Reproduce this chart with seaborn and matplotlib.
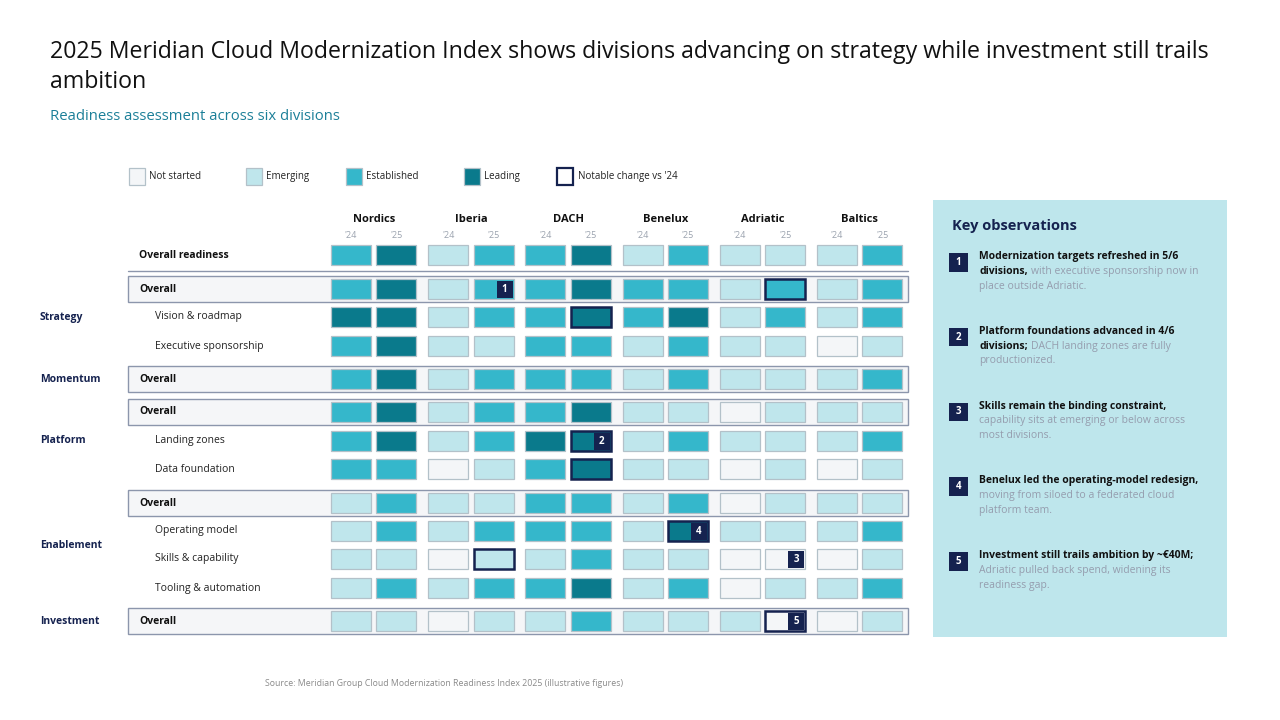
import matplotlib
matplotlib.use("Agg")
import matplotlib.pyplot as plt
import seaborn as sns
from matplotlib.patches import Rectangle

sns.set_theme(style="white")
plt.rcParams['font.family'] = ['Open Sans', 'DejaVu Sans']

# ---- data ----
divisions = ["Nordics", "Iberia", "DACH", "Benelux", "Adriatic", "Baltics"]
years = ["'24", "'25"]
level_names = ["Not started", "Emerging", "Established", "Leading"]

row_labels = ["Overall readiness", "Overall", "Vision & roadmap", "Executive sponsorship",
              "Overall", "Overall", "Landing zones", "Data foundation", "Overall",
              "Operating model", "Skills & capability", "Tooling & automation", "Overall"]
row_groups = ["", "Strategy", "Strategy", "Strategy", "Momentum", "Platform", "Platform",
              "Platform", "Enablement", "Enablement", "Enablement", "Enablement", "Investment"]

# 0 = not started, 1 = emerging, 2 = established, 3 = leading
scores_24 = [
    [2, 1, 2, 1, 1, 1],
    [2, 1, 2, 2, 1, 1],
    [3, 1, 2, 2, 1, 1],
    [2, 1, 2, 1, 1, 0],
    [2, 1, 2, 1, 1, 1],
    [2, 1, 2, 1, 0, 1],
    [2, 1, 3, 1, 1, 1],
    [2, 0, 2, 1, 0, 0],
    [1, 1, 2, 1, 0, 1],
    [1, 1, 2, 1, 1, 1],
    [1, 0, 1, 1, 0, 0],
    [1, 1, 2, 1, 0, 1],
    [1, 0, 1, 1, 1, 0],
]
scores_25 = [
    [3, 2, 3, 2, 1, 2],
    [3, 2, 3, 2, 2, 2],
    [3, 2, 3, 3, 2, 2],
    [3, 1, 2, 2, 1, 1],
    [3, 2, 2, 2, 1, 2],
    [3, 2, 3, 1, 1, 1],
    [3, 2, 3, 2, 1, 2],
    [2, 1, 3, 1, 1, 1],
    [2, 1, 2, 2, 1, 1],
    [2, 2, 2, 3, 1, 2],
    [1, 1, 2, 1, 0, 1],
    [2, 2, 3, 2, 1, 2],
    [1, 1, 2, 1, 0, 1],
]

# notable changes vs '24 (row, division) - all on the '25 column
notable = [(1, "Adriatic"), (2, "DACH"), (6, "DACH"), (7, "DACH"),
           (9, "Benelux"), (10, "Iberia"), (12, "Adriatic")]
# numbered callouts (number, row, division)
callouts = [(1, 1, "Iberia"), (2, 6, "DACH"), (3, 10, "Adriatic"),
            (4, 9, "Benelux"), (5, 12, "Adriatic")]

obs_bold = [
    ["Modernization targets refreshed in 5/6", "divisions,"],
    ["Platform foundations advanced in 4/6", "divisions;"],
    ["Skills remain the binding constraint,"],
    ["Benelux led the operating-model redesign,"],
    ["Investment still trails ambition by ~€40M;"],
]
obs_rest = [
    ["with executive sponsorship now in", "place outside Adriatic."],
    ["DACH landing zones are fully", "productionized."],
    ["capability sits at emerging or below across", "most divisions."],
    ["moving from siloed to a federated cloud", "platform team."],
    ["Adriatic pulled back spend, widening its", "readiness gap."],
]

# ---- style / layout ----
level_colors = sns.color_palette(["#F4F6F8", "#BFE6EC", "#35B7CB", "#0A7A8C"])
NAVY = "#15224F"
CELL_EDGE = "#B3C1C9"
BAND_EDGE = "#8C96AC"
row_y = [255, 289, 317, 346, 379, 412, 441, 469, 503, 531, 559, 588, 621]
band_rows = [1, 4, 5, 8, 12]
x0, div_pitch, yr_pitch = 331, 97.2, 45.3
cell_w, cell_h = 40, 20

fig = plt.figure(figsize=(12.8, 7.2), dpi=100)
ax = fig.add_axes([0, 0, 1, 1])
ax.set_xlim(0, 1280)
ax.set_ylim(720, 0)
ax.axis("off")
renderer = fig.canvas.get_renderer()


def cell_x(d, yi):
    return x0 + d * div_pitch + yi * yr_pitch


# titles
ax.text(50, 52, "2025 Meridian Cloud Modernization Index shows divisions advancing on strategy while investment still trails",
        fontsize=16.7, color="#111111", va="center")
ax.text(50, 82, "ambition", fontsize=16.7, color="#111111", va="center")
ax.text(50, 116, "Readiness assessment across six divisions", fontsize=10.7, color="#1B7F98", va="center")

# legend
leg_x = [129, 246, 346, 464]
for i, name in enumerate(level_names):
    ax.add_patch(Rectangle((leg_x[i], 167.5), 16, 17, facecolor=level_colors[i], edgecolor=CELL_EDGE, lw=0.9))
    ax.text(leg_x[i] + 20, 176.5, name, fontsize=7, color="#222222", va="center")
ax.add_patch(Rectangle((557, 167.5), 16, 17, facecolor="white", edgecolor=NAVY, lw=1.6))
ax.text(578, 176.5, "Notable change vs '24", fontsize=7, color="#222222", va="center")

# column headers
for d, div in enumerate(divisions):
    ax.text(cell_x(d, 0) + (yr_pitch + cell_w) / 2, 220, div, fontsize=8, fontweight="bold",
            color="#111111", ha="center", va="center")
    for yi, yr in enumerate(years):
        ax.text(cell_x(d, yi) + cell_w / 2, 236, yr, fontsize=6.5, color="#9AA2AE", ha="center", va="center")

# bands and separator
for r in band_rows:
    ax.add_patch(Rectangle((128, row_y[r] - 13), 780, 26, facecolor="#F5F6F8", edgecolor=BAND_EDGE, lw=1.0, zorder=1))
ax.plot([128, 908], [271, 271], color=BAND_EDGE, lw=1.0)

# row labels
for r, lab in enumerate(row_labels):
    if lab.startswith("Overall"):
        ax.text(139, row_y[r], lab, fontsize=7.5, fontweight="bold", color="#111111", va="center", zorder=3)
    else:
        ax.text(155, row_y[r], lab, fontsize=7.5, color="#222222", va="center", zorder=3)

# group labels
for g in ["Strategy", "Momentum", "Platform", "Enablement", "Investment"]:
    ys = [row_y[i] for i, rg in enumerate(row_groups) if rg == g]
    ax.text(40, sum(ys) / len(ys), g, fontsize=7.5, fontweight="bold", color=NAVY, va="center")

# cells
notable_set = set(notable)
for r in range(len(row_labels)):
    for d, div in enumerate(divisions):
        for yi, sc in enumerate([scores_24[r][d], scores_25[r][d]]):
            hl = yi == 1 and (r, div) in notable_set
            ax.add_patch(Rectangle((cell_x(d, yi), row_y[r] - cell_h / 2), cell_w, cell_h,
                                   facecolor=level_colors[sc],
                                   edgecolor=NAVY if hl else CELL_EDGE,
                                   lw=1.8 if hl else 0.9, zorder=3 if hl else 2))

# callout markers on cells
for num, r, div in callouts:
    d = divisions.index(div)
    xr = cell_x(d, 1) + cell_w - 1
    ax.add_patch(Rectangle((xr - 16, row_y[r] - 8.5), 16, 17, facecolor=NAVY, edgecolor="none", zorder=4))
    ax.text(xr - 8, row_y[r], str(num), fontsize=7, fontweight="bold", color="white",
            ha="center", va="center", zorder=5)

# key observations panel
ax.add_patch(Rectangle((933, 200), 294, 437, facecolor="#BEE6EC", edgecolor="none"))
ax.text(952, 226, "Key observations", fontsize=10.5, fontweight="bold", color=NAVY, va="center")
line_h = 14.8
for i in range(len(obs_bold)):
    top = 256.5 + i * 74.8
    ax.add_patch(Rectangle((949, top - 3.5), 18.5, 18.5, facecolor=NAVY, edgecolor="none"))
    ax.text(958.2, top + 5.8, str(i + 1), fontsize=7, fontweight="bold", color="white", ha="center", va="center")
    lines = []
    for b in obs_bold[i][:-1]:
        lines.append([(b, "bold", "#111111")])
    rest = list(obs_rest[i])
    if len(obs_bold[i]) > 1:
        lines.append([(obs_bold[i][-1], "bold", "#111111"), (rest.pop(0), "normal", "#959DAE")])
    else:
        lines.append([(obs_bold[i][-1], "bold", "#111111")])
    for g in rest:
        lines.append([(g, "normal", "#959DAE")])
    for li, parts in enumerate(lines):
        x = 979
        for txt, wt, col in parts:
            t = ax.text(x, top + li * line_h, txt, fontsize=7.5, fontweight=wt, color=col, va="center")
            x += t.get_window_extent(renderer).width + 3.5

ax.text(265, 683, "Source: Meridian Group Cloud Modernization Readiness Index 2025 (illustrative figures)",
        fontsize=6.3, color="#8A8A8A", va="center")

fig.savefig("out.png", dpi=100)
